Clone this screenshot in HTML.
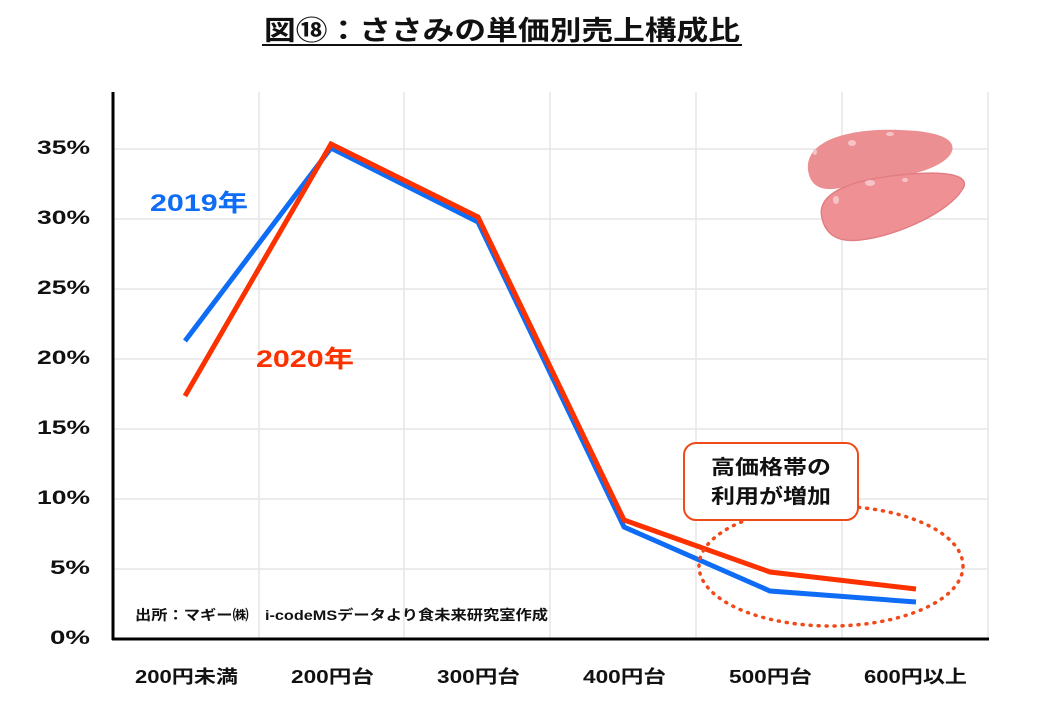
<!DOCTYPE html>
<html><head><meta charset="utf-8"><style>
body{margin:0;background:#fff;width:1040px;height:720px;overflow:hidden;font-family:"Liberation Sans","Noto Sans CJK JP",sans-serif;}
</style></head><body>
<svg width="1040" height="720" xmlns="http://www.w3.org/2000/svg" font-family="'Liberation Sans','Noto Sans CJK JP',sans-serif" font-weight="bold">
<text x="264" y="40" font-size="27" fill="#111" textLength="476" lengthAdjust="spacingAndGlyphs">図⑱：ささみの単価別売上構成比</text>
<line x1="262" y1="45" x2="742" y2="45" stroke="#111" stroke-width="2"/>
<g stroke="#e6e6e6" stroke-width="1.5">
<line x1="113" y1="149" x2="988" y2="149"/><line x1="113" y1="219" x2="988" y2="219"/>
<line x1="113" y1="289" x2="988" y2="289"/><line x1="113" y1="359" x2="988" y2="359"/>
<line x1="113" y1="429" x2="988" y2="429"/><line x1="113" y1="499" x2="988" y2="499"/>
<line x1="113" y1="569" x2="988" y2="569"/>
<line x1="259" y1="92" x2="259" y2="639"/><line x1="404" y1="92" x2="404" y2="639"/>
<line x1="550" y1="92" x2="550" y2="639"/><line x1="696" y1="92" x2="696" y2="639"/>
<line x1="842" y1="92" x2="842" y2="639"/><line x1="988" y1="92" x2="988" y2="639"/>
</g>
<line x1="113" y1="92" x2="113" y2="640" stroke="#000" stroke-width="3"/>
<line x1="112" y1="639" x2="989" y2="639" stroke="#000" stroke-width="3"/>
<g font-size="19" fill="#111">
<text x="37" y="154" textLength="53" lengthAdjust="spacingAndGlyphs">35%</text>
<text x="37" y="224" textLength="53" lengthAdjust="spacingAndGlyphs">30%</text>
<text x="37" y="294" textLength="53" lengthAdjust="spacingAndGlyphs">25%</text>
<text x="37" y="364" textLength="53" lengthAdjust="spacingAndGlyphs">20%</text>
<text x="37" y="434" textLength="53" lengthAdjust="spacingAndGlyphs">15%</text>
<text x="37" y="504" textLength="53" lengthAdjust="spacingAndGlyphs">10%</text>
<text x="50" y="574" textLength="40" lengthAdjust="spacingAndGlyphs">5%</text>
<text x="50" y="644" textLength="40" lengthAdjust="spacingAndGlyphs">0%</text>
</g>
<g font-size="18" fill="#111">
<text x="135" y="683" textLength="103" lengthAdjust="spacingAndGlyphs">200円未満</text>
<text x="291" y="683" textLength="83" lengthAdjust="spacingAndGlyphs">200円台</text>
<text x="437" y="683" textLength="83" lengthAdjust="spacingAndGlyphs">300円台</text>
<text x="583" y="683" textLength="83" lengthAdjust="spacingAndGlyphs">400円台</text>
<text x="729" y="683" textLength="83" lengthAdjust="spacingAndGlyphs">500円台</text>
<text x="864" y="683" textLength="103" lengthAdjust="spacingAndGlyphs">600円以上</text>
</g>
<text x="135" y="620" font-size="14" fill="#111" textLength="413" lengthAdjust="spacingAndGlyphs">出所：マギー㈱　i-codeMSデータより食未来研究室作成</text>
<path d="M808,170 C805,140 850,128 900,130 C940,131 960,140 950,155 C935,175 880,180 840,188 C820,192 810,185 808,170 Z" fill="#ec8f92"/>
<path d="M822,218 C815,190 860,178 910,174 C950,171 972,176 962,190 C948,212 900,235 860,240 C835,243 825,232 822,218 Z" fill="#ef9194" stroke="#e27e83" stroke-width="1.5"/>
<g fill="#f6c4c7"><ellipse cx="852" cy="143" rx="4" ry="3"/><ellipse cx="890" cy="134" rx="4" ry="2"/><ellipse cx="870" cy="183" rx="5" ry="3"/><ellipse cx="905" cy="180" rx="3" ry="2"/><ellipse cx="836" cy="200" rx="3" ry="4"/><ellipse cx="815" cy="152" rx="2" ry="3"/></g>
<polyline points="185,341 331,148 478,222 624,527 770,591 916,602" fill="none" stroke="#0f6cf5" stroke-width="5" stroke-linejoin="miter"/>
<polyline points="185,396 331,144 478,217 624,520 770,572 916,589" fill="none" stroke="#fb3200" stroke-width="5" stroke-linejoin="miter"/>
<text x="150" y="211" font-size="24" fill="#0f6cf5" textLength="98" lengthAdjust="spacingAndGlyphs">2019年</text>
<text x="256" y="367" font-size="24" fill="#fb3200" textLength="98" lengthAdjust="spacingAndGlyphs">2020年</text>
<ellipse cx="831" cy="566" rx="132" ry="60" fill="none" stroke="#f04a1a" stroke-width="3.5" stroke-dasharray="1 7" stroke-linecap="round"/>
<rect x="684" y="443" width="174" height="77" rx="12" fill="#fff" stroke="#f04a1a" stroke-width="2"/>
<text x="711" y="474" font-size="20" fill="#111" textLength="120" lengthAdjust="spacingAndGlyphs">高価格帯の</text>
<text x="711" y="503" font-size="20" fill="#111" textLength="120" lengthAdjust="spacingAndGlyphs">利用が増加</text>
</svg>
</body></html>
